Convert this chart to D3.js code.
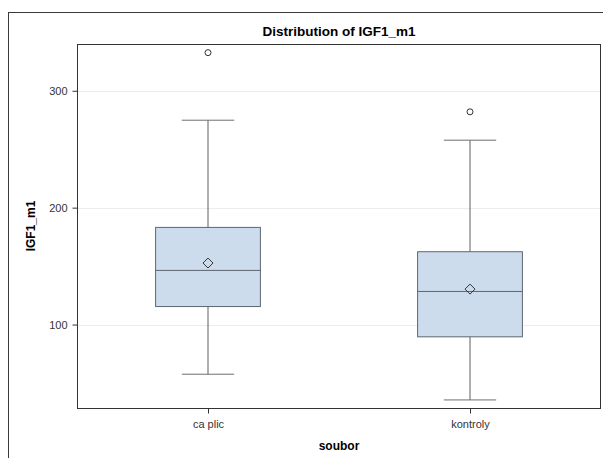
<!DOCTYPE html>
<html>
<head>
<meta charset="utf-8">
<script src="https://cdn.jsdelivr.net/npm/d3@7"></script>
<style>
  body { margin: 0; background: #fff; }
  text { font-family: "Liberation Sans", Arial, sans-serif; }
</style>
</head>
<body>
<div id="chart"></div>
<script>
const categories = ["ca plic", "kontroly"];
const lowWhisker = [57.5, 35.5];
const q1 = [115.4, 89.5];
const median = [146.3, 128.3];
const q3 = [183.1, 162.3];
const highWhisker = [274.8, 257.7];
const means = [152.6, 130.3];
const outliers = [[332.6], [282]];
const yTicks = [100, 200, 300];

const W = 603, H = 458;
const plot = { left: 77, right: 601, top: 44, bottom: 408 };

const svg = d3.select('#chart').append('svg')
    .attr('width', W)
    .attr('height', H);

// outer frame
svg.append('rect')
    .attr('x', 8.5).attr('y', 12.5)
    .attr('width', W).attr('height', H)
    .attr('fill', 'none')
    .attr('stroke', '#3a3a3a')
    .attr('stroke-width', 1);

const x = d3.scalePoint()
    .domain(categories)
    .range([plot.left, plot.right])
    .padding(0.5);

const y = d3.scaleLinear()
    .domain([28.6, 340])
    .range([plot.bottom, plot.top]);

// grid lines
svg.append('g')
    .selectAll('line')
    .data(yTicks)
  .enter().append('line')
    .attr('x1', plot.left).attr('x2', plot.right)
    .attr('y1', d => Math.round(y(d)) + 0.5)
    .attr('y2', d => Math.round(y(d)) + 0.5)
    .attr('stroke', '#ececec')
    .attr('stroke-width', 1);

const boxW = x.step() * 0.4;
const capW = boxW / 2;

const boxes = svg.append('g')
    .selectAll('g')
    .data(categories)
  .enter().append('g');

// whiskers
boxes.append('line')
    .attr('x1', d => x(d)).attr('x2', d => x(d))
    .attr('y1', (d, i) => y(highWhisker[i]))
    .attr('y2', (d, i) => y(q3[i]))
    .attr('stroke', '#5f5f5f');
boxes.append('line')
    .attr('x1', d => x(d)).attr('x2', d => x(d))
    .attr('y1', (d, i) => y(q1[i]))
    .attr('y2', (d, i) => y(lowWhisker[i]))
    .attr('stroke', '#5f5f5f');
boxes.append('line')
    .attr('x1', d => x(d) - capW / 2).attr('x2', d => x(d) + capW / 2)
    .attr('y1', (d, i) => y(highWhisker[i]))
    .attr('y2', (d, i) => y(highWhisker[i]))
    .attr('stroke', '#6f6f6f');
boxes.append('line')
    .attr('x1', d => x(d) - capW / 2).attr('x2', d => x(d) + capW / 2)
    .attr('y1', (d, i) => y(lowWhisker[i]))
    .attr('y2', (d, i) => y(lowWhisker[i]))
    .attr('stroke', '#6f6f6f');

// box
boxes.append('rect')
    .attr('x', d => x(d) - boxW / 2)
    .attr('y', (d, i) => y(q3[i]))
    .attr('width', boxW)
    .attr('height', (d, i) => y(q1[i]) - y(q3[i]))
    .attr('fill', '#cddcec')
    .attr('stroke', '#5d6670')
    .attr('stroke-width', 1);

// median
boxes.append('line')
    .attr('x1', d => x(d) - boxW / 2).attr('x2', d => x(d) + boxW / 2)
    .attr('y1', (d, i) => y(median[i]))
    .attr('y2', (d, i) => y(median[i]))
    .attr('stroke', '#5d6670')
    .attr('stroke-width', 1);

// mean diamond
boxes.append('path')
    .attr('transform', (d, i) => `translate(${x(d)},${y(means[i])})`)
    .attr('d', 'M0,-5L5,0L0,5L-5,0Z')
    .attr('fill', 'none')
    .attr('stroke', '#333')
    .attr('stroke-width', 1);

// outliers
boxes.selectAll('circle')
    .data((d, i) => outliers[i].map(v => ({ c: d, v })))
  .enter().append('circle')
    .attr('cx', d => x(d.c))
    .attr('cy', d => y(d.v))
    .attr('r', 3)
    .attr('fill', 'none')
    .attr('stroke', '#333');

// plot frame
svg.append('rect')
    .attr('x', plot.left + 0.5).attr('y', plot.top + 0.5)
    .attr('width', plot.right - plot.left - 1)
    .attr('height', plot.bottom - plot.top)
    .attr('fill', 'none')
    .attr('stroke', '#333')
    .attr('stroke-width', 1);

// axes
const yAxis = svg.append('g')
    .attr('transform', `translate(${plot.left + 0.5},0)`)
    .call(d3.axisLeft(y).tickValues(yTicks).tickSize(5).tickPadding(5));
const xAxis = svg.append('g')
    .attr('transform', `translate(0,${plot.bottom + 0.5})`)
    .call(d3.axisBottom(x).tickSize(5).tickPadding(7));

[yAxis, xAxis].forEach(a => {
    a.select('.domain').remove();
    a.selectAll('line').attr('stroke', '#333');
    a.selectAll('text').attr('font-size', 11).attr('fill', '#333')
        .attr('font-family', '"Liberation Sans", Arial, sans-serif');
});

// titles
svg.append('text')
    .attr('x', (plot.left + plot.right) / 2)
    .attr('y', 36)
    .attr('text-anchor', 'middle')
    .attr('font-size', 13.5)
    .attr('font-weight', 'bold')
    .text('Distribution of IGF1_m1');

svg.append('text')
    .attr('x', (plot.left + plot.right) / 2)
    .attr('y', 450)
    .attr('text-anchor', 'middle')
    .attr('font-size', 12)
    .attr('font-weight', 'bold')
    .text('soubor');

svg.append('text')
    .attr('transform', `translate(35,${(plot.top + plot.bottom) / 2}) rotate(-90)`)
    .attr('text-anchor', 'middle')
    .attr('font-size', 12)
    .attr('font-weight', 'bold')
    .text('IGF1_m1');
</script>
</body>
</html>
